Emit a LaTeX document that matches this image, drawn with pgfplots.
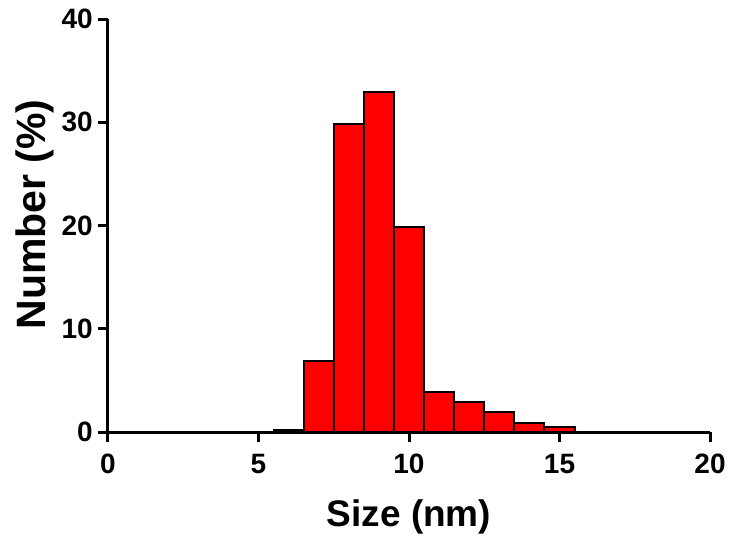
\documentclass[border=0pt]{standalone}
\usepackage{pgfplots}
\pgfplotsset{compat=1.18}
\usepackage{fontspec}
\setmainfont{Liberation Sans}
\definecolor{barred}{HTML}{FF0000}
\begin{document}
\begin{tikzpicture}
\useasboundingbox (-108pt,-111pt) rectangle (625pt,432pt);
\begin{axis}[
  at={(0,0)}, anchor=south west,
  scale only axis,
  width=602pt, height=413pt,
  xmin=0, xmax=20, ymin=0, ymax=40,
  axis x line=bottom, axis y line=left,
  axis line style={-, line width=3pt, black},
  xtick={0,5,10,15,20}, ytick={0,10,20,30,40},
  minor tick num=0,
  tick align=outside,
  major tick length=10pt,
  tick style={line width=3pt, black},
  /pgf/number format/assume math mode=true,
  ticklabel style={font=\fontsize{28}{33}\selectfont\bfseries, inner sep=3pt},
  xticklabel style={yshift=-9pt},
  yticklabel style={xshift=-2pt},
  xlabel={Size (nm)},
  ylabel={Number (\%)},
  xlabel style={font=\fontsize{37}{44}\selectfont\bfseries, at={(axis description cs:0.5,-0.230)}, anchor=base},
  ylabel style={font=\fontsize{41}{48}\selectfont\bfseries, at={(axis description cs:-0.104,0.527)}, anchor=base, rotate=0},
  clip=false,
]
\addplot[ybar, bar width=1, bar shift=0, fill=barred, draw=black, line width=2pt]
  coordinates {
    (6,0.2) (7,6.9) (8,29.8) (9,32.9) (10,19.9)
    (11,3.9) (12,2.9) (13,1.9) (14,0.9) (15,0.5)
  };
\end{axis}
\end{tikzpicture}
\end{document}
